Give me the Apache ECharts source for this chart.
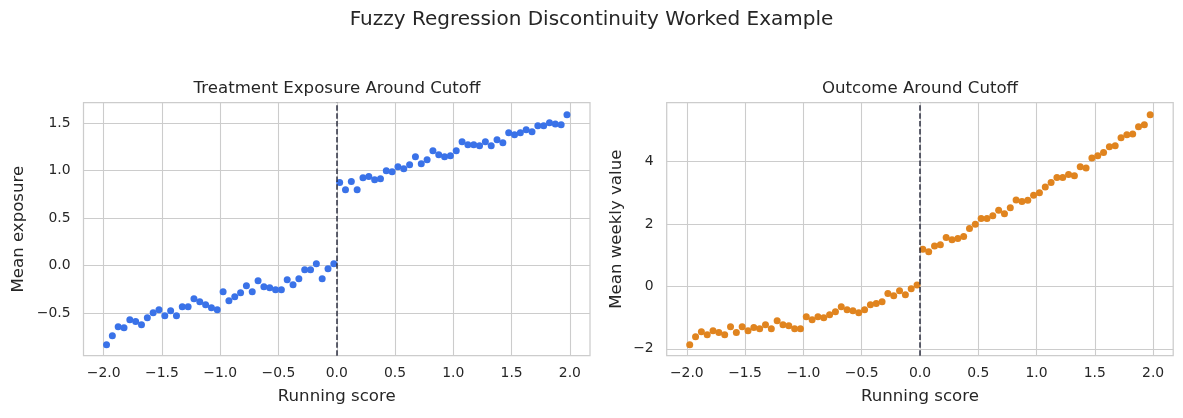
<!DOCTYPE html>
<html lang="en">
<head>
    <meta charset="UTF-8">
    <title>Fuzzy Regression Discontinuity Worked Example</title>
    <style>
        html, body { margin: 0; padding: 0; background: #fff; }
    </style>
</head>
<body>
<div id="main" style="width: 1183px;height:418px;"></div>

<script src="https://cdn.jsdelivr.net/npm/echarts@6/dist/echarts.min.js"></script>
<script>
    // bin centres of the running score
    var runningScore = [
        -1.975, -1.925, -1.875, -1.825, -1.775, -1.725, -1.675, -1.625, -1.575, -1.525,
        -1.475, -1.425, -1.375, -1.325, -1.275, -1.225, -1.175, -1.125, -1.075, -1.025,
        -0.975, -0.925, -0.875, -0.825, -0.775, -0.725, -0.675, -0.625, -0.575, -0.525,
        -0.475, -0.425, -0.375, -0.325, -0.275, -0.225, -0.175, -0.125, -0.075, -0.025,
        0.025, 0.075, 0.125, 0.175, 0.225, 0.275, 0.325, 0.375, 0.425, 0.475,
        0.525, 0.575, 0.625, 0.675, 0.725, 0.775, 0.825, 0.875, 0.925, 0.975,
        1.025, 1.075, 1.125, 1.175, 1.225, 1.275, 1.325, 1.375, 1.425, 1.475,
        1.525, 1.575, 1.625, 1.675, 1.725, 1.775, 1.825, 1.875, 1.925, 1.975
    ];
    var meanExposure = [
        -0.835, -0.74, -0.645, -0.656, -0.572, -0.589, -0.625, -0.551, -0.498, -0.467,
        -0.53, -0.477, -0.53, -0.435, -0.435, -0.351, -0.383, -0.414, -0.446, -0.467,
        -0.277, -0.372, -0.33, -0.288, -0.214, -0.277, -0.161, -0.225, -0.235, -0.256,
        -0.256, -0.151, -0.204, -0.14, -0.046, -0.046, 0.018, -0.14, -0.035, 0.018,
        0.874, 0.797, 0.884, 0.797, 0.923, 0.937, 0.902, 0.912, 0.997, 0.986,
        1.039, 1.018, 1.06, 1.144, 1.07, 1.113, 1.207, 1.165, 1.144, 1.155,
        1.207, 1.302, 1.27, 1.27, 1.26, 1.302, 1.26, 1.323, 1.291, 1.397,
        1.376, 1.397, 1.428, 1.407, 1.47, 1.47, 1.502, 1.49, 1.48, 1.586
    ];
    var meanOutcome = [
        -1.87, -1.61, -1.45, -1.55, -1.42, -1.48, -1.55, -1.29, -1.48, -1.29,
        -1.42, -1.32, -1.36, -1.23, -1.36, -1.10, -1.23, -1.26, -1.36, -1.36,
        -0.97, -1.07, -0.97, -1.00, -0.91, -0.81, -0.65, -0.75, -0.78, -0.84,
        -0.75, -0.59, -0.55, -0.49, -0.23, -0.30, -0.14, -0.27, -0.07, 0.05,
        1.19, 1.11, 1.30, 1.34, 1.57, 1.50, 1.54, 1.60, 1.86, 1.99,
        2.18, 2.18, 2.27, 2.44, 2.33, 2.52, 2.77, 2.72, 2.76, 2.92,
        3.00, 3.19, 3.33, 3.49, 3.49, 3.59, 3.55, 3.84, 3.80, 4.12,
        4.19, 4.29, 4.48, 4.51, 4.77, 4.86, 4.89, 5.12, 5.18, 5.50
    ];
    var cutoff = 0;
    var xTicks = [-2.0, -1.5, -1.0, -0.5, 0.0, 0.5, 1.0, 1.5, 2.0];
    var exposureTicks = [-0.5, 0.0, 0.5, 1.0, 1.5];
    var outcomeTicks = [-2, 0, 2, 4];

    var textColor = '#262626';
    var gridColor = '#cccccc';
    var font = 'DejaVu Sans';

    var pairs = function (xs, ys) {
        var res = [];
        for (var i = 0; i < xs.length; i++) {
            res.push([xs[i], ys[i]]);
        }
        return res;
    };
    var minusSign = function (s) {
        return String(s).replace('-', '\u2212');
    };

    var xAxisFor = function (gridIndex) {
        return {
            type: 'value',
            gridIndex: gridIndex,
            min: -2.1725,
            max: 2.1725,
            name: 'Running score',
            nameLocation: 'middle',
            nameGap: 32,
            nameTextStyle: { color: textColor, fontSize: 16.6, fontFamily: font },
            axisLine: { show: false },
            axisTick: { show: false, customValues: xTicks },
            axisLabel: {
                customValues: xTicks,
                color: textColor,
                fontSize: 13.9,
                fontFamily: font,
                margin: 11,
                formatter: function (v) { return minusSign(v.toFixed(1)); }
            },
            splitLine: { show: true, lineStyle: { color: gridColor, width: 1.1 } }
        };
    };

    var yAxisFor = function (gridIndex, min, max, ticks, digits, name, gap) {
        return {
            type: 'value',
            gridIndex: gridIndex,
            min: min,
            max: max,
            name: name,
            nameLocation: 'middle',
            nameGap: gap,
            nameRotate: 90,
            nameTextStyle: { color: textColor, fontSize: 16.6, fontFamily: font },
            axisLine: { show: false },
            axisTick: { show: false, customValues: ticks },
            axisLabel: {
                customValues: ticks,
                color: textColor,
                fontSize: 13.9,
                fontFamily: font,
                margin: 13,
                formatter: function (v) { return minusSign(v.toFixed(digits)); }
            },
            splitLine: { show: true, lineStyle: { color: gridColor, width: 1.1 } }
        };
    };

    var cutoffLine = {
        silent: true,
        symbol: 'none',
        label: { show: false },
        lineStyle: { color: '#2e3142', width: 1.5, type: [5.5, 2.4] },
        data: [{ xAxis: cutoff }]
    };

    var chart = echarts.init(document.getElementById('main'), null, { renderer: 'canvas' });
    chart.setOption({
        backgroundColor: '#ffffff',
        animation: false,
        title: {
            text: 'Fuzzy Regression Discontinuity Worked Example',
            left: 'center',
            top: 5,
            textStyle: { color: textColor, fontSize: 20, fontWeight: 'normal', fontFamily: font }
        },
        graphic: [
            {
                type: 'text',
                x: 337, y: 89,
                style: {
                    text: 'Treatment Exposure Around Cutoff',
                    fill: textColor, font: '16.6px "DejaVu Sans"', align: 'center', verticalAlign: 'middle'
                }
            },
            {
                type: 'text',
                x: 920, y: 89,
                style: {
                    text: 'Outcome Around Cutoff',
                    fill: textColor, font: '16.6px "DejaVu Sans"', align: 'center', verticalAlign: 'middle'
                }
            }
        ],
        grid: [
            { left: 83.5, top: 102.7, width: 506.5, height: 253, show: true, borderColor: gridColor, borderWidth: 1.25, backgroundColor: 'transparent' },
            { left: 666.7, top: 102.7, width: 506.5, height: 253, show: true, borderColor: gridColor, borderWidth: 1.25, backgroundColor: 'transparent' }
        ],
        xAxis: [xAxisFor(0), xAxisFor(1)],
        yAxis: [
            yAxisFor(0, -0.95, 1.713, exposureTicks, 1, 'Mean exposure', 56),
            yAxisFor(1, -2.22, 5.89, outcomeTicks, 0, 'Mean weekly value', 42)
        ],
        series: [
            {
                name: 'exposure',
                type: 'scatter',
                xAxisIndex: 0,
                yAxisIndex: 0,
                symbolSize: 7,
                itemStyle: { color: '#3a72e8', opacity: 1 },
                data: pairs(runningScore, meanExposure),
                markLine: cutoffLine
            },
            {
                name: 'outcome',
                type: 'scatter',
                xAxisIndex: 1,
                yAxisIndex: 1,
                symbolSize: 7,
                itemStyle: { color: '#e0841f', opacity: 1 },
                data: pairs(runningScore, meanOutcome),
                markLine: cutoffLine
            }
        ]
    });
</script>
</body>
</html>
